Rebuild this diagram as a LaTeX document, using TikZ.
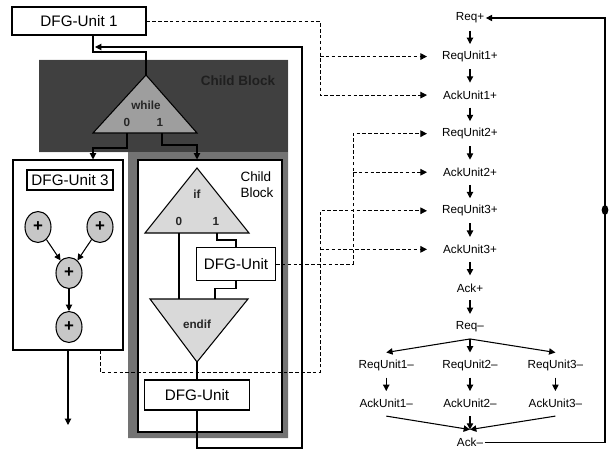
\documentclass[tikz,border=0pt]{standalone}
\usepackage{fontspec}
\setmainfont{Liberation Sans}
\usetikzlibrary{arrows.meta,positioning,shapes.geometric,calc}

\begin{document}
\begin{tikzpicture}[x=0.03cm,y=-0.03cm,
  font=\fontsize{10}{12}\selectfont, line width=0.9pt, node distance=0.405cm,
  unit/.style={draw,fill=white,inner sep=1pt,font=\fontsize{13}{15}\selectfont},
  addop/.style={draw,ellipse,fill=black!22,minimum width=0.78cm,minimum height=0.93cm,
               inner sep=0pt,font=\bfseries\Large},
  ev/.style={inner sep=1pt,minimum height=0.72cm},
  trilbl/.style={font=\fontsize{10}{12}\selectfont\bfseries,text=black!85},
  arr/.style={-{Triangle[length=1.9mm,width=1.9mm]}},
  dline/.style={dash pattern=on 3pt off 2pt,line width=0.8pt},
  darr/.style={dline,-{Triangle[length=2mm,width=2mm]}},
]
\useasboundingbox (0,0) rectangle (611,450);

\fill[black!55] (39,60) -- (288,60) -- (288,438) -- (128,438) -- (128,152) -- (39,152) -- cycle;
\fill[black!75] (39,60) rectangle (288,152);
\node[text=black!88,font=\fontsize{11.5}{13}\selectfont\bfseries] (parentlbl) at (238,81) {Child Block};

\coordinate (wtop) at (146,75); \coordinate (wl) at (93,133); \coordinate (wr) at (197,133);
\coordinate (w0) at (127,133); \coordinate (w1) at (162,133);
\filldraw[fill=black!38] (wtop) -- (wr) -- (wl) -- cycle;
\node[trilbl] at (146,105) {while};
\node[trilbl] at (127,122) {0};
\node[trilbl] at (160,122) {1};

\node[unit,minimum width=4.02cm,minimum height=0.84cm] (dfg1) at (79,21) {DFG-Unit 1};

\node[draw,fill=white,minimum width=3.3cm,minimum height=5.7cm] (blk3) at (68,255) {};
\node[unit,minimum width=2.58cm,minimum height=0.6cm] (dfg3) at (70,180) {DFG-Unit 3};
\node[addop] (p1) at (38,227) {+};
\node[addop] (p2) at (100,227) {+};
\node[addop] (p3) at (69,273) {+};
\node[addop] (p4) at (69,327) {+};
\coordinate (out3) at (68,425);

\node[draw,fill=white,minimum width=4.32cm,minimum height=8.16cm] (child) at (210,296) {};
\node[align=left,font=\fontsize{11.5}{13.5}\selectfont] (childlbl) at (257,185) {Child\\Block};

\coordinate (itop) at (197,168); \coordinate (il) at (145,233); \coordinate (ir) at (249,233);
\coordinate (i0) at (179,233); \coordinate (i1) at (217,233);
\filldraw[fill=black!15] (itop) -- (ir) -- (il) -- cycle;
\node[trilbl] at (197,194) {if};
\node[trilbl] at (179,221) {0};
\node[trilbl] at (216,221) {1};

\node[unit,minimum width=2.37cm,minimum height=0.99cm] (dfgc) at (236,264) {DFG-Unit};

\coordinate (el) at (150,299); \coordinate (er) at (248,299); \coordinate (ebot) at (197,362);
\coordinate (e0) at (179,299); \coordinate (e1) at (215,299);
\filldraw[fill=black!15] (el) -- (er) -- (ebot) -- cycle;
\node[trilbl] at (197,324) {endif};

\node[unit,minimum width=3.15cm,minimum height=0.9cm] (dfgb) at (197,395) {DFG-Unit};

\coordinate (rb) at (302,448); \coordinate (rt) at (302,47); \coordinate (lin) at (95,47);

\draw (dfg1.south -| wl) |- (146,52) -- (wtop);
\draw[arr] (dfgb.south) |- (rb) -- (rt) -- (lin);
\draw[arr] (w0) -- ++(0,15) -| (blk3.north -| wl);
\draw[arr] (w1) -- ++(0,12) -| (child.north -| itop);
\draw (i0) -- (e0);
\draw (i1) -- ++(0,7) -| (dfgc.north);
\draw (dfgc.south) -- ++(0,7) -| (e1);
\draw (ebot) -- (dfgb.north);
\draw[arr] (p1) -- (p3); \draw[arr] (p2) -- (p3); \draw[arr] (p3) -- (p4);
\draw[arr] (blk3.south) -- (out3);

\node[ev] (reqp) at (470,18) {Req+};
\node[ev,below=of reqp] (requ1p) {ReqUnit1+};
\node[ev,below=of requ1p] (acku1p) {AckUnit1+};
\node[ev,below=of acku1p] (requ2p) {ReqUnit2+};
\node[ev,below=of requ2p] (acku2p) {AckUnit2+};
\node[ev,below=of acku2p] (requ3p) {ReqUnit3+};
\node[ev,below=of requ3p] (acku3p) {AckUnit3+};
\node[ev,below=of acku3p] (ackp) {Ack+};
\node[ev,below=of ackp] (reqm) {Req--};
\node[ev,below=of reqm] (requ2m) {ReqUnit2--};
\node[ev,left=0.75cm of requ2m] (requ1m) {ReqUnit1--};
\node[ev,right=0.8cm of requ2m] (requ3m) {ReqUnit3--};
\node[ev,below=of requ1m] (acku1m) {AckUnit1--};
\node[ev,below=of requ2m] (acku2m) {AckUnit2--};
\node[ev,below=of requ3m] (acku3m) {AckUnit3--};
\node[ev,below=of acku2m] (ackm) {Ack--};

\draw[arr] (reqp) -- (requ1p); \draw[arr] (requ1p) -- (acku1p);
\draw[arr] (acku1p) -- (requ2p); \draw[arr] (requ2p) -- (acku2p);
\draw[arr] (acku2p) -- (requ3p); \draw[arr] (requ3p) -- (acku3p);
\draw[arr] (acku3p) -- (ackp); \draw[arr] (ackp) -- (reqm);
\draw[arr] (reqm.south) -- (requ1m.north);
\draw[arr] (reqm.south) -- (requ2m.north);
\draw[arr] (reqm.south) -- (requ3m.north);
\draw[arr] (requ1m) -- (acku1m); \draw[arr] (requ2m) -- (acku2m); \draw[arr] (requ3m) -- (acku3m);
\draw[arr] (acku1m.south) -- (ackm.north);
\draw[arr] (acku2m.south) -- (ackm.north);
\draw[arr] (acku3m.south) -- (ackm.north);

\coordinate (lp) at (605,210);
\draw[arr] (ackm.east) -- (ackm.east -| lp) -- (lp |- reqp) -- (reqp.east);
\fill (lp) ellipse [x radius=0.1cm, y radius=0.15cm];

\coordinate (tip) at (427,0);
\coordinate (j1) at (320,0); \coordinate (j2) at (353,0); \coordinate (j3) at (320,372);
\draw[darr] (dfg1.east) -| (j1 |- acku1p) -- (tip |- acku1p);
\draw[darr] (j1 |- requ1p) -- (tip |- requ1p);
\draw[darr] (dfgc.east) -| (j2 |- requ2p) -- (tip |- requ2p);
\draw[darr] (j2 |- acku2p) -- (tip |- acku2p);
\draw[darr] (blk3.south -| p2) |- (j3) -- (j3 |- requ3p) -- (tip |- requ3p);
\draw[darr] (j3 |- acku3p) -- (tip |- acku3p);
\end{tikzpicture}
\end{document}
